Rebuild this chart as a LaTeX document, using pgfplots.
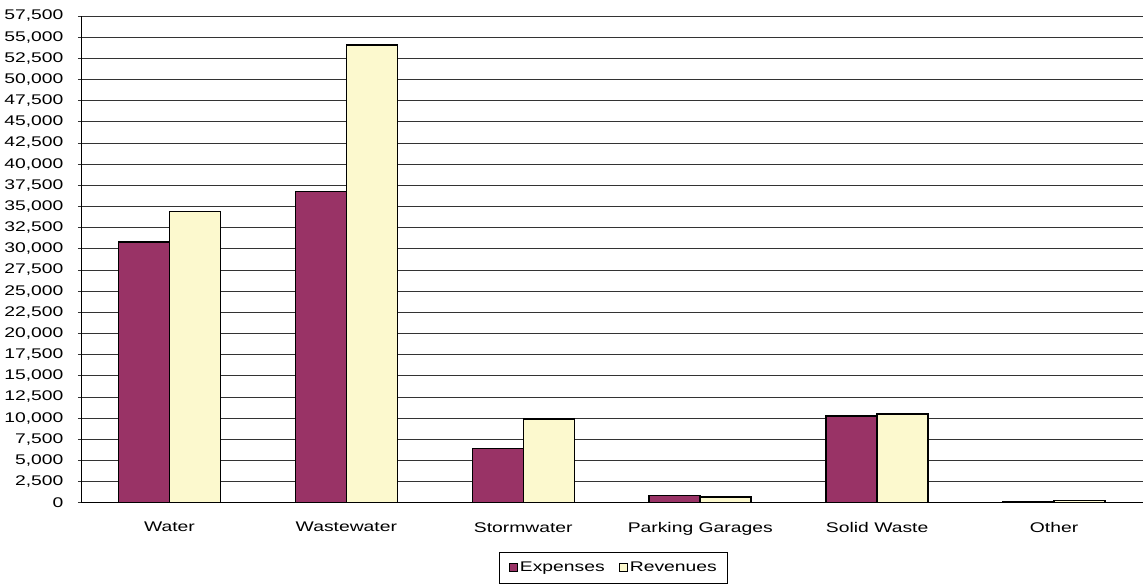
\documentclass[border=0pt]{standalone}
\usepackage{fontspec}
\setmainfont{Liberation Sans}
\usepackage{graphicx}
\usepackage{pgfplots}
\pgfplotsset{compat=1.18}
\definecolor{expcol}{RGB}{153,51,102}
\definecolor{revcol}{RGB}{252,249,206}
\newcommand\sx[1]{\scalebox{1.38}[1]{#1}}
\begin{document}
\begin{tikzpicture}
\begin{axis}[
    scale only axis,
    width=1062pt, height=487pt,
    ybar=0pt, bar width=51pt,
    xmin=-0.5, xmax=5.5,
    ymin=0, ymax=57500,
    ytick distance=2500,
    scaled y ticks=false,
    xtick={0,1,2,3,4,5},
    xticklabels={\sx{Water},\sx{Wastewater},\sx{Stormwater},\sx{Parking Garages},\sx{Solid Waste},\sx{Other}},
    major x tick style={draw=none},
    extra x ticks={0.5,1.5,2.5,3.5,4.5},
    extra x tick labels={},
    extra x tick style={tick style={black!70, line width=0.8pt}, major tick length=6pt, grid=none},
    tick align=outside,
    major tick length=6pt,
    ymajorgrids=true,
    major grid style={black!80, line width=0.9pt},
    axis x line=bottom, axis y line=left,
    axis line style={-, black, line width=0.9pt},
    y tick style={black!80, line width=0.9pt},
    font=\fontsize{14}{16}\selectfont,
    /pgf/number format/.cd, fixed, precision=0, 1000 sep={,}, assume math mode=true,
    /pgfplots/.cd,
    yticklabel={\sx{\pgfmathprintnumber{\tick}}},
    yticklabel style={xshift=-11pt},
    xticklabel style={yshift=-13pt},
    legend style={at={(0.5,0)}, anchor=north, yshift=-49pt, xshift=2pt,
        draw=black, line width=0.8pt, legend columns=-1,
        inner xsep=9pt, inner ysep=8pt,
        /tikz/every even column/.append style={column sep=12pt},
        font=\fontsize{14}{16}\selectfont},
    legend image code/.code={\draw[#1, line width=1.2pt, draw=black] (1pt,-3.5pt) rectangle (9pt,4.5pt);},
]
\addplot[fill=expcol, draw=black, line width=1.5pt] coordinates {
    (0,30800) (1,36800) (2,6400) (3,850) (4,10250) (5,150)};
\addlegendentry{\sx{Expenses}}
\addplot[fill=revcol, draw=black, line width=1.5pt] coordinates {
    (0,34400) (1,54100) (2,9900) (3,700) (4,10500) (5,300)};
\addlegendentry{\sx{Revenues}}
\end{axis}
\path (current axis.south west) ++(-81pt,-83pt) rectangle ++(1143pt,586pt);
\end{tikzpicture}
\end{document}
